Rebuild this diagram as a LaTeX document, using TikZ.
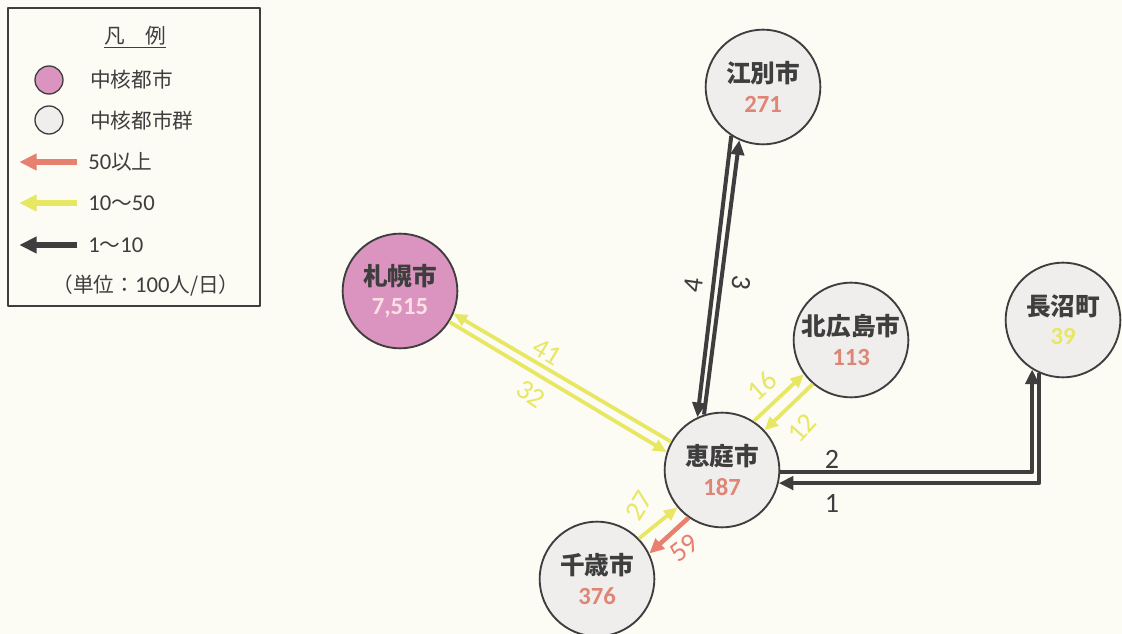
\documentclass[tikz,border=0pt]{standalone}
\usepackage{fontspec}
\setmainfont{Carlito}
\newfontfamily\jp{Noto Sans CJK JP}
\usetikzlibrary{arrows.meta}
\definecolor{paper}{RGB}{252,251,244}
\definecolor{inkgray}{RGB}{62,62,62}
\definecolor{cityfill}{RGB}{240,238,237}
\definecolor{corepink}{RGB}{219,147,191}
\definecolor{flowred}{RGB}{232,128,112}
\definecolor{flowyel}{RGB}{232,231,98}
\definecolor{numred}{RGB}{222,133,118}
\definecolor{numpale}{RGB}{251,224,228}
\newcommand{\citynum}{\rmfamily\bfseries\fontsize{18.5}{21}\selectfont}
\begin{document}
\begin{tikzpicture}[x=0.75pt,y=-0.75pt,line join=round,>={Triangle[length=11pt,width=10pt]},font=\jp,
    city/.style={circle,draw=inkgray,line width=1.4pt,fill=cityfill,minimum size=86pt,inner sep=0pt,
        align=center,text=inkgray,font=\jp\bfseries\fontsize{18.5}{22}\selectfont},
    grayflow/.style={draw=inkgray,line width=3pt},
    yelflow/.style={draw=flowyel,line width=2.8pt,>={Triangle[length=10pt,width=9pt]}},
    redflow/.style={draw=flowred,line width=3.4pt},
    flowlab/.style={inner sep=0pt,font=\rmfamily\fontsize{21}{23}\selectfont},
    legtext/.style={inner sep=0pt,anchor=west,text=inkgray,font=\jp\fontsize{15.5}{18}\selectfont},
    legflow/.style={line width=4.6pt,>={Triangle[length=13pt,width=12pt]}}]
    \useasboundingbox (0,0) rectangle (1122,634);
    \fill[paper] (0,0) rectangle (1122,634);
    % legend
    \draw[inkgray,line width=0.8pt] (8,8) rectangle (260,306);
    \node[legtext,anchor=center] (legtitle) at (135,37) {\underline{凡　例}};
    \node[circle,draw=inkgray,line width=1pt,fill=corepink,minimum size=21pt,inner sep=0pt] (legcore) at (49,80) {};
    \node[circle,draw=inkgray,line width=1pt,fill=cityfill,minimum size=21pt,inner sep=0pt] (leggroup) at (49,120) {};
    \node[legtext] (legcoretxt) at (90,80) {中核都市};
    \node[legtext] (leggrouptxt) at (90,121) {中核都市群};
    \node[legtext] (legred) at (88,162) {{\rmfamily\fontsize{17}{18}\selectfont 50}以上};
    \node[legtext] (legyel) at (88,203) {{\rmfamily\fontsize{17}{18}\selectfont 10}～{\rmfamily\fontsize{17}{18}\selectfont 50}};
    \node[legtext] (leggray) at (88,245) {{\rmfamily\fontsize{17}{18}\selectfont 1}～{\rmfamily\fontsize{17}{18}\selectfont 10}};
    \node[legtext,anchor=center] (legunit) at (146,286) {（単位：{\rmfamily\fontsize{17}{18}\selectfont 100}人/日）};
    \draw[legflow,flowred,->] ([xshift=-8pt]legred.west) -- ++(-58,0);
    \draw[legflow,flowyel,->] ([xshift=-8pt]legyel.west) -- ++(-58,0);
    \draw[legflow,inkgray,->] ([xshift=-8pt]leggray.west) -- ++(-58,0);
    % cities
    \node[city,fill=corepink] (sapporo) at (400,291) {札幌市\\{\citynum\color{numpale}7,515}};
    \node[city] (ebetsu) at (763,87) {江別市\\{\citynum\color{numred}271}};
    \node[city] (kita) at (851,340) {北広島市\\{\citynum\color{numred}113}};
    \node[city] (naga) at (1063,320) {長沼町\\{\citynum\color{flowyel}39}};
    \node[city] (eniwa) at (722,470) {恵庭市\\{\citynum\color{numred}187}};
    \node[city] (chitose) at (597,579) {千歳市\\{\citynum\color{numred}376}};
    % flows
    \draw[yelflow,->] (eniwa.151) -- (sapporo.-23);
    \draw[yelflow,->] (sapporo.-32) -- (eniwa.162);
    \draw[grayflow,->] (ebetsu.237) -- (eniwa.115);
    \draw[grayflow,->] (eniwa.108) -- (ebetsu.246);
    \draw[yelflow,->] (eniwa.57) -- (kita.216);
    \draw[yelflow,->] (kita.229) -- (eniwa.43);
    \draw[yelflow,->] (chitose.44) -- (eniwa.220);
    \draw[redflow,->] (eniwa.235) -- (chitose.26);
    \draw[grayflow,->] (eniwa.-2) -| (naga.238);
    \draw[grayflow,->] (naga.246) |- (eniwa.-13);
    % flow values
    \node[flowlab,text=flowyel,rotate=-31] (v41) at (547,352) {41};
    \node[flowlab,text=flowyel,rotate=-34] (v32) at (531,394) {32};
    \node[flowlab,text=inkgray,rotate=82] (v4) at (694,285) {4};
    \node[flowlab,text=inkgray,rotate=-98] (v3) at (741,283) {3};
    \node[flowlab,text=flowyel,rotate=42] (v16) at (762,386) {16};
    \node[flowlab,text=flowyel,rotate=48] (v12) at (802,428) {12};
    \node[flowlab,text=flowyel,rotate=58] (v27) at (639,506) {27};
    \node[flowlab,text=flowred,rotate=38] (v59) at (684,548) {59};
    \node[flowlab,text=inkgray] (v2) at (832,459) {2};
    \node[flowlab,text=inkgray] (v1) at (832,503) {1};
\end{tikzpicture}
\end{document}
